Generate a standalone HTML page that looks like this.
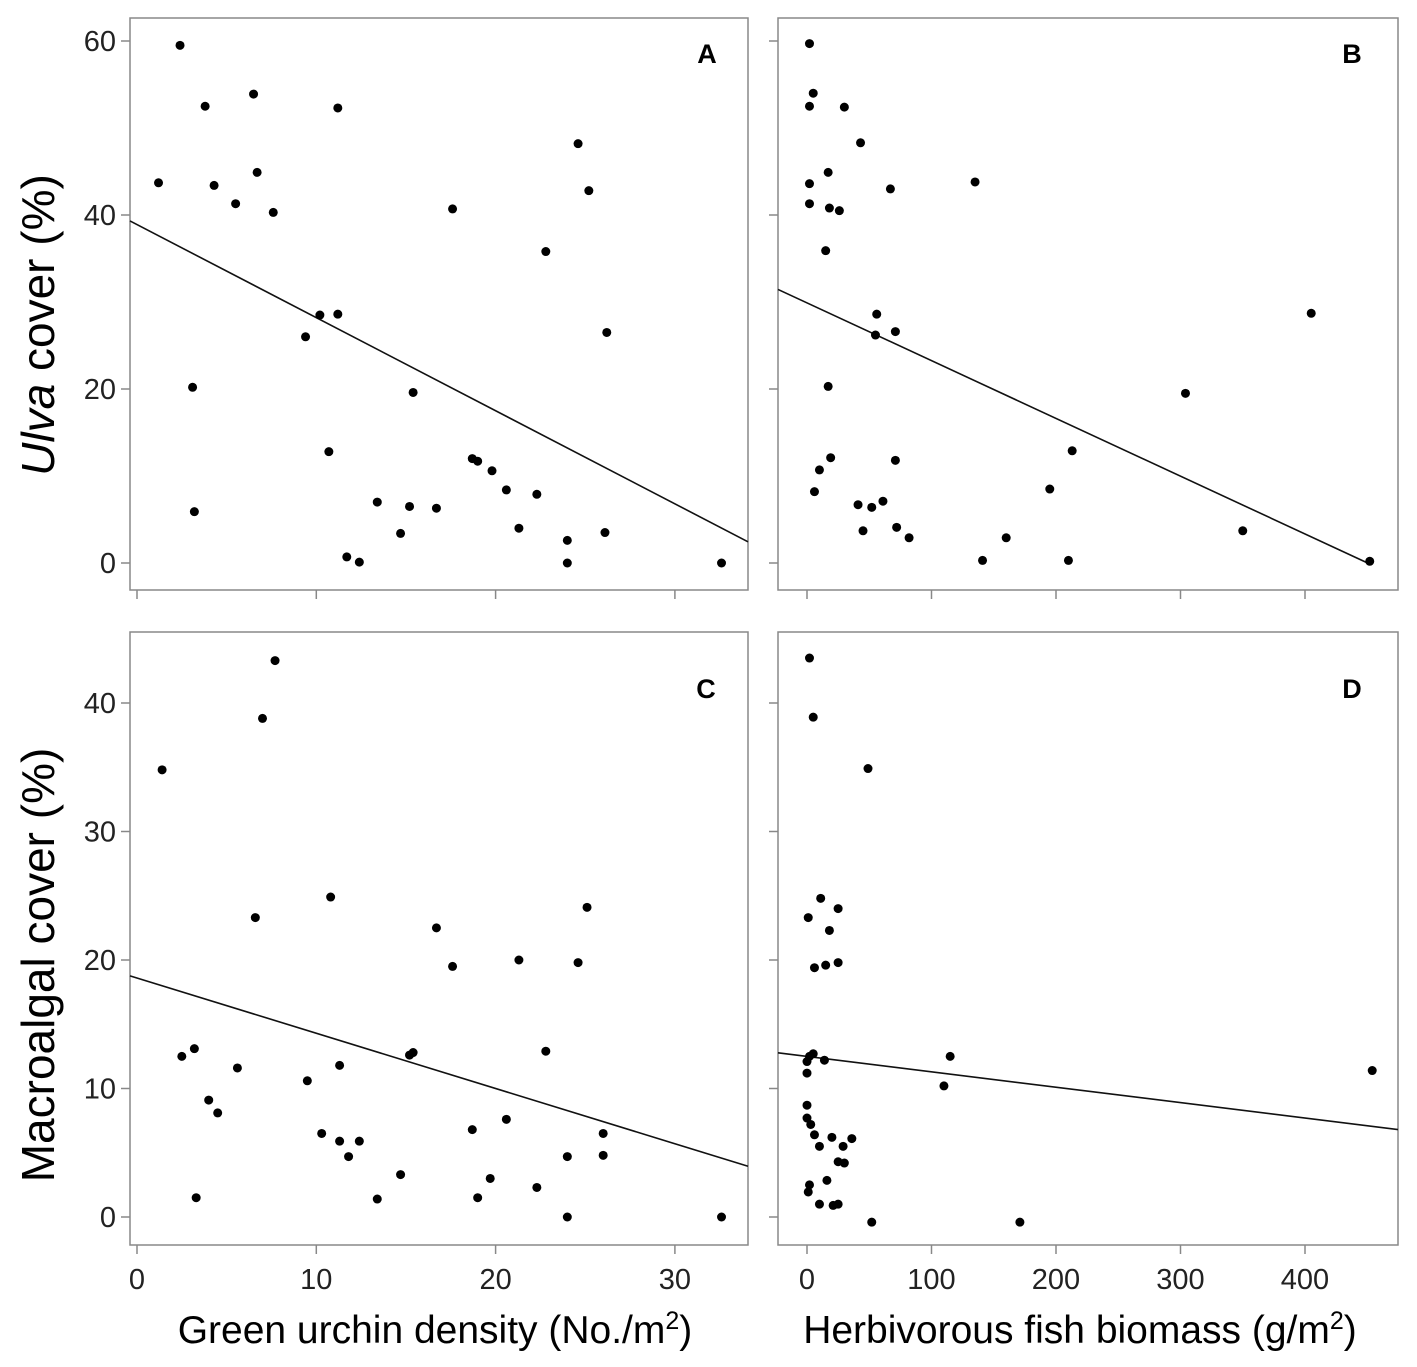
<!DOCTYPE html>
<html><head><meta charset="utf-8"><style>
body{margin:0;background:#fff}
svg{display:block;font-family:"Liberation Sans",sans-serif}
</style></head><body>
<svg id="chart" width="1417" height="1367" viewBox="0 0 1417 1367" xmlns="http://www.w3.org/2000/svg">
<text transform="translate(54,325) rotate(-90)" text-anchor="middle" font-size="46"><tspan font-style="italic">Ulva</tspan> cover (%)</text>
<text transform="translate(54,965) rotate(-90)" text-anchor="middle" font-size="46">Macroalgal cover (%)</text>
<text x="435" y="1343" text-anchor="middle" font-size="39">Green urchin density (No./m<tspan font-size="25" dy="-14">2</tspan><tspan dy="14">)</tspan></text>
<text x="1080" y="1343" text-anchor="middle" font-size="39">Herbivorous fish biomass (g/m<tspan font-size="25" dy="-14">2</tspan><tspan dy="14">)</tspan></text>
</svg>
<script>
const urchinTicks=[0,10,20,30];
const fishTicks=[0,100,200,300,400];
const ulvaTicks=[0,20,40,60];
const macroTicks=[0,10,20,30,40];
const aX=[2.4,3.8,1.2,4.3,5.5,6.5,6.7,7.6,3.1,3.2,11.2,10.2,11.2,9.4,10.7,17.6,15.4,13.4,15.2,16.7,14.7,11.7,12.4,18.7,19.0,19.8,20.6,22.3,21.3,22.8,24.6,25.2,26.2,24.0,24.0,26.1,32.6];
const aY=[59.5,52.5,43.7,43.4,41.3,53.9,44.9,40.3,20.2,5.9,52.3,28.5,28.6,26.0,12.8,40.7,19.6,7.0,6.5,6.3,3.4,0.7,0.1,12.0,11.7,10.6,8.4,7.9,4.0,35.8,48.2,42.8,26.5,2.6,0,3.5,0];
const bX=[2,5,2,30,43,2,17,135,67,2,18,26,15,56,55,71,405,17,304,213,19,71,10,6,195,41,52,61,45,72,82,160,141,210,350,452];
const bY=[59.7,54,52.5,52.4,48.3,43.6,44.9,43.8,43,41.3,40.8,40.5,35.9,28.6,26.2,26.6,28.7,20.3,19.5,12.9,12.1,11.8,10.7,8.2,8.5,6.7,6.4,7.1,3.7,4.1,2.9,2.9,0.3,0.3,3.7,0.2];
const cX=[1.4,7.7,7.0,6.6,2.5,3.2,5.6,4.0,4.5,3.3,10.8,9.5,11.3,10.3,11.3,11.8,12.4,13.4,14.7,15.2,15.4,16.7,17.6,18.7,19.0,19.7,20.6,21.3,22.3,22.8,24.0,24.0,24.6,25.1,26.0,26.0,32.6];
const cY=[34.8,43.3,38.8,23.3,12.5,13.1,11.6,9.1,8.1,1.5,24.9,10.6,11.8,6.5,5.9,4.7,5.9,1.4,3.3,12.6,12.8,22.5,19.5,6.8,1.5,3.0,7.6,20.0,2.3,12.9,4.7,0,19.8,24.1,6.5,4.8,0];
const dX=[115,110,454,0,2,5,14,0,0,0,3,6,20,36,10,29,25,30,2,1,16,10,21,25,52,171,2,5,49,11,1,25,18,6,15,25];
const dY=[12.5,10.2,11.4,12.1,12.5,12.7,12.2,11.2,8.7,7.7,7.2,6.4,6.2,6.1,5.5,5.5,4.3,4.2,2.5,1.95,2.85,1.0,0.9,1.0,-0.4,-0.4,43.5,38.9,34.9,24.8,23.3,24.0,22.3,19.4,19.6,19.8];
const fitA=[38.9,-1.07], fitB=[29.9,-0.0664], fitC=[18.6,-0.43], fitD=[12.5,-0.012];
const NS='http://www.w3.org/2000/svg';
const svg=document.getElementById('chart');
function mk(tag,attrs){const e=document.createElementNS(NS,tag);for(const k in attrs)e.setAttribute(k,attrs[k]);return e;}
function panel(name,box,xs,ys,xTicks,yTicks,showX,showY,px,py,fit,letter,lpos){
  const g=mk('g',{});
  
  
  svg.appendChild(g);
  const fx=v=>xs[0]+(v-xs[1])*xs[2];
  const fy=v=>ys[0]-(v-ys[1])*ys[2];
  const r=mk('rect',{x:box[0],y:box[1],width:box[2]-box[0],height:box[3]-box[1],fill:'none',stroke:'#888','stroke-width':1.5});
  
  
  g.appendChild(r);
  xTicks.forEach(t=>{const x=fx(t);
    const l=mk('line',{x1:x,x2:x,y1:box[3],y2:box[3]+9,stroke:'#888','stroke-width':1.5});
    
    
    g.appendChild(l);
    if(showX){const tx=mk('text',{x:x,y:box[3]+44,'text-anchor':'middle','font-size':29,fill:'#222'});tx.textContent=t;
      
      
      g.appendChild(tx);}
  });
  yTicks.forEach(t=>{const y=fy(t);
    const l=mk('line',{x1:box[0]-9,x2:box[0],y1:y,y2:y,stroke:'#888','stroke-width':1.5});
    
    
    g.appendChild(l);
    if(showY){const tx=mk('text',{x:box[0]-14,y:y+10,'text-anchor':'end','font-size':29,fill:'#222'});tx.textContent=t;
      
      
      g.appendChild(tx);}
  });
  const x0=(box[0]-xs[0])/xs[2]+xs[1], x1=(box[2]-xs[0])/xs[2]+xs[1];
  let xe=x1;
  if(fit[0]+fit[1]*x1<0){xe=-fit[0]/fit[1];}
  const ln=mk('line',{x1:box[0],y1:fy(fit[0]+fit[1]*x0),x2:fx(xe),y2:fy(fit[0]+fit[1]*xe),stroke:'#111','stroke-width':1.6});
  
  
  g.appendChild(ln);
  px.forEach((v,i)=>{const c=mk('circle',{cx:fx(v),cy:fy(py[i]),r:4.5,fill:'#000'});
    
    
    g.appendChild(c);});
  const lt=mk('text',{x:lpos[0],y:lpos[1],'text-anchor':'middle','font-size':27,'font-weight':'bold'});lt.textContent=letter;
  
  
  g.appendChild(lt);
}
const uX=[137,0,17.93], fX=[807,0,1.245];
const uY=[563,0,8.7], mY=[1217,0,12.85];
panel('panel-a',[130,18,748,590],uX,uY,urchinTicks,ulvaTicks,false,true,aX,aY,fitA,'A',[707,63]);
panel('panel-b',[778,18,1398,590],fX,uY,fishTicks,ulvaTicks,false,false,bX,bY,fitB,'B',[1352,63]);
panel('panel-c',[130,632,748,1245],uX,mY,urchinTicks,macroTicks,true,true,cX,cY,fitC,'C',[706,698]);
panel('panel-d',[778,632,1398,1245],fX,mY,fishTicks,macroTicks,true,false,dX,dY,fitD,'D',[1352,698]);
</script>
</body></html>
